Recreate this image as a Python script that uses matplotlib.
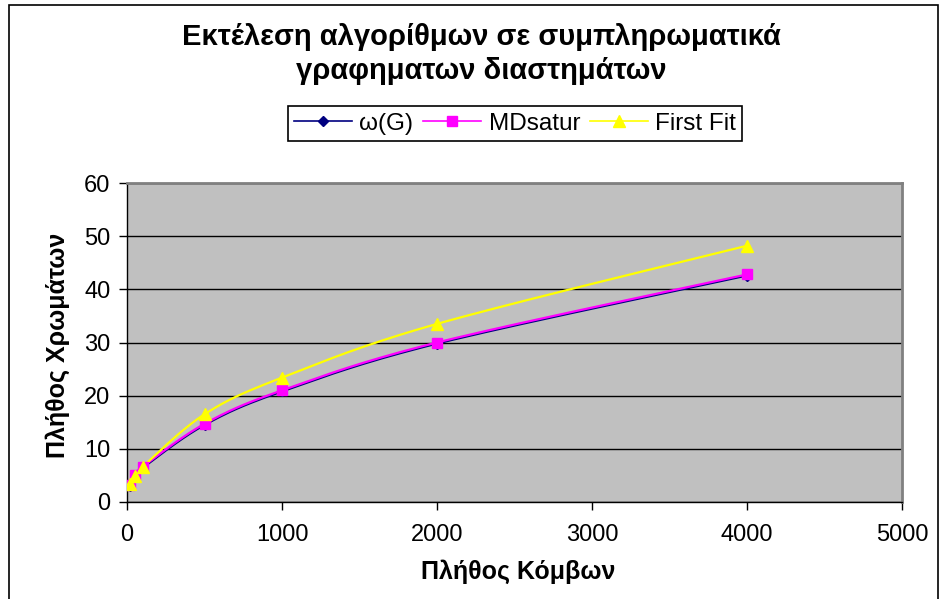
import matplotlib
matplotlib.use("Agg")
import matplotlib.pyplot as plt
from matplotlib.patches import Rectangle
import numpy as np

plt.rcParams['font.family'] = ['Liberation Sans', 'DejaVu Sans']

# Data
nodes = [20, 50, 100, 500, 1000, 2000, 4000]
omega_g = [3.0, 4.9, 6.4, 14.5, 20.8, 29.8, 42.6]
mdsatur = [3.2, 5.1, 6.6, 14.7, 21.0, 30.0, 42.8]
first_fit = [3.3, 4.9, 6.6, 16.5, 23.4, 33.5, 48.2]

title = "Εκτέλεση αλγορίθμων σε συμπληρωματικά\nγραφηματων διαστημάτων"
x_label = "Πλήθος Κόμβων"
y_label = "Πλήθος Χρωμάτων"


def smooth(xs, ys, steps=30):
    # Catmull-Rom style smoothing through every point (like spreadsheet "smoothed line")
    pts = np.column_stack([xs, ys]).astype(float)
    pts = np.vstack([pts[0], pts, pts[-1]])
    out = []
    for i in range(1, len(pts) - 2):
        p0, p1, p2, p3 = pts[i - 1], pts[i], pts[i + 1], pts[i + 2]
        c1 = p1 + (p2 - p0) / 6
        c2 = p2 - (p3 - p1) / 6
        t = np.linspace(0, 1, steps)[:, None]
        seg = ((1 - t) ** 3) * p1 + 3 * ((1 - t) ** 2) * t * c1 + 3 * (1 - t) * t ** 2 * c2 + t ** 3 * p2
        out.append(seg)
    out = np.vstack(out)
    return out[:, 0], out[:, 1]


fig = plt.figure(figsize=(9.41, 5.99), dpi=100)
W, H = 941, 599

# chart area border
fig.patches.append(Rectangle((9 / W, -0.05), 929 / W, (H - 5) / H + 0.05, transform=fig.transFigure,
                             fill=False, edgecolor="black", linewidth=1.2))

ax = fig.add_axes([127 / W, 1 - 502 / H, (902 - 127) / W, (502 - 183) / H])
ax.set_facecolor("#c0c0c0")

series = [
    ("ω(G)", omega_g, "#000080", "D", 5),
    ("MDsatur", mdsatur, "#ff00ff", "s", 6.5),
    ("First Fit", first_fit, "#ffff00", "^", 8.5),
]
handles = []
for name, vals, color, marker, ms in series:
    sx, sy = smooth(nodes, vals)
    ax.plot(sx, sy, color=color, linewidth=1.6, zorder=3)
    ax.plot(nodes, vals, linestyle="none", marker=marker, markersize=ms,
            color=color, markeredgecolor=color, zorder=4)
    h, = ax.plot([], [], color=color, linewidth=1.2, marker=marker, markersize=ms, label=name)
    handles.append(h)

ax.set_xlim(0, 5000)
ax.set_ylim(0, 60)
ax.set_xticks(range(0, 5001, 1000))
ax.set_yticks(range(0, 61, 10))
ax.grid(axis="y", color="black", linewidth=1)
ax.set_axisbelow(True)
ax.tick_params(direction="out", length=6, width=1, labelsize=17, colors="black", pad=6)
ax.tick_params(axis="x", pad=10)

for side in ["top", "right"]:
    ax.spines[side].set_color("#808080")
    ax.spines[side].set_linewidth(2)
for side in ["left", "bottom"]:
    ax.spines[side].set_color("black")
    ax.spines[side].set_linewidth(1)

fig.text(58 / W, 1 - 345 / H, y_label, rotation=90, ha="center", va="center",
         fontsize=18, fontweight="bold")
fig.text(518 / W, 1 - 572 / H, x_label, ha="center", va="center",
         fontsize=18, fontweight="bold")
fig.text(481 / W, 1 - 54 / H, title, ha="center", va="center",
         fontsize=21, fontweight="bold", linespacing=1.25)

leg = fig.legend(handles=handles, loc="center", bbox_to_anchor=(515 / W, 1 - 123.5 / H),
                 ncol=3, frameon=True, fancybox=False, fontsize=17.5, handlelength=2.4,
                 handletextpad=0.3, columnspacing=0.4, borderpad=0.25, edgecolor="black",
                 facecolor="white", framealpha=1)
leg.get_frame().set_linewidth(1.2)

fig.savefig("out.png", dpi=100)
